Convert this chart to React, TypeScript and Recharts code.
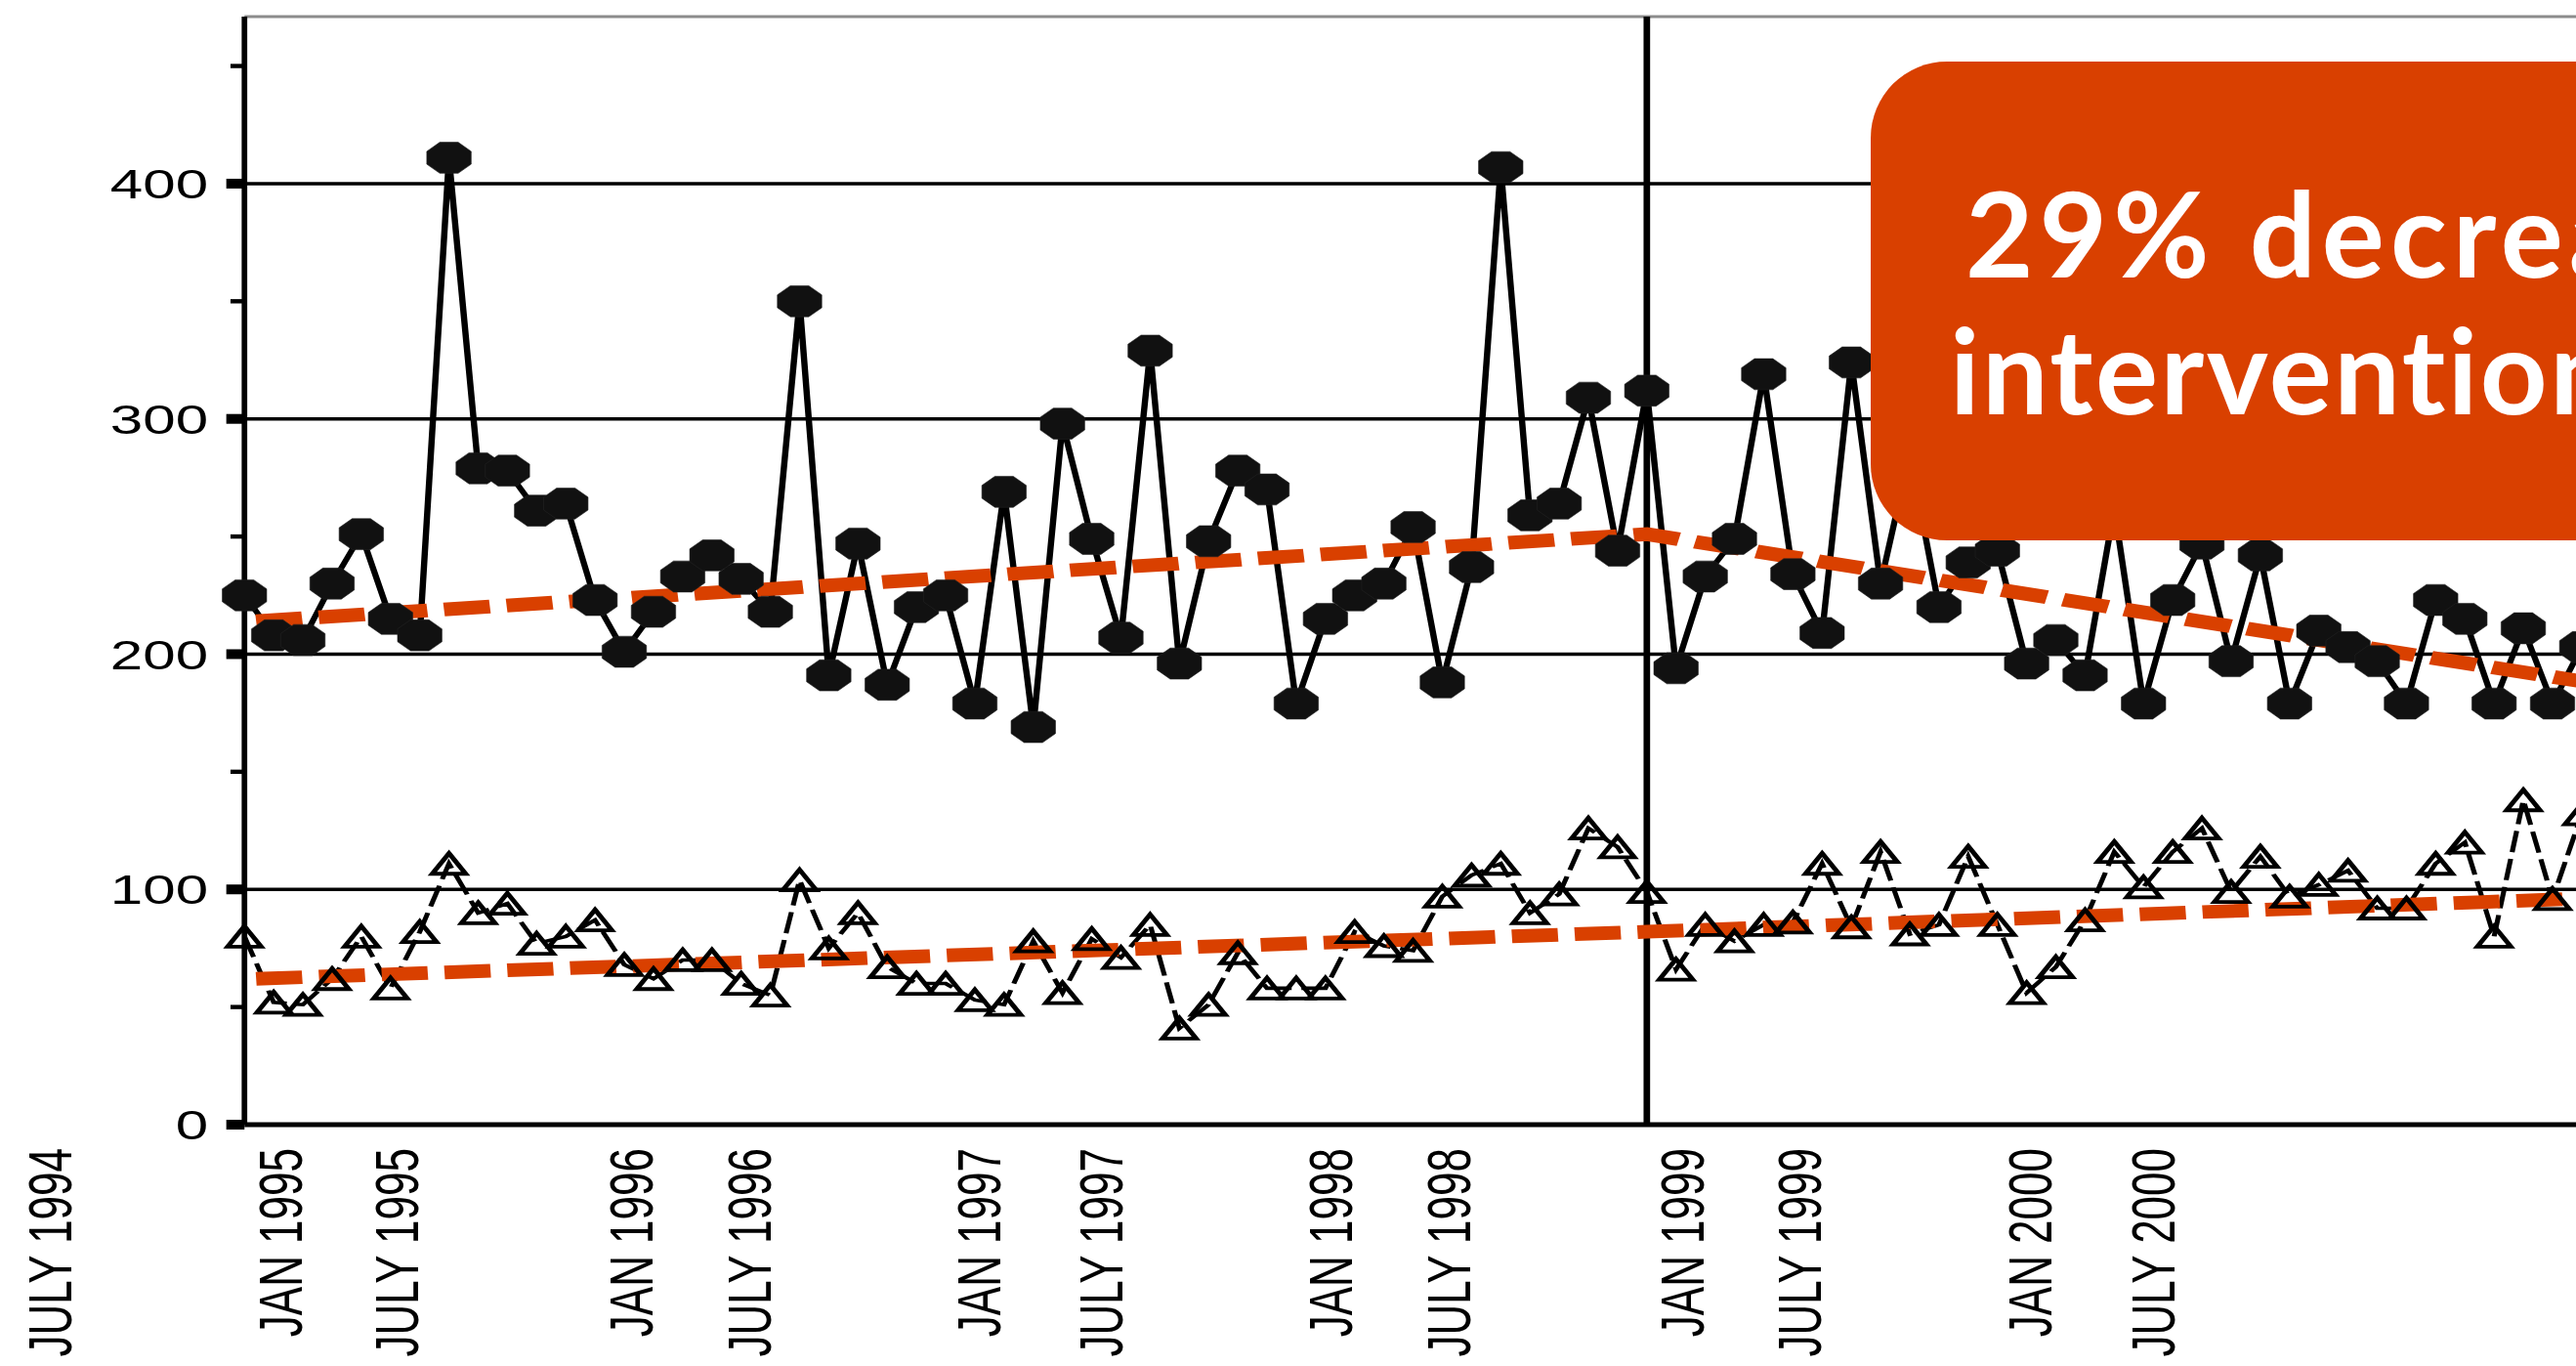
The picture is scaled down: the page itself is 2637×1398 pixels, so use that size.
import { ComposedChart, Line, XAxis, YAxis, CartesianGrid, ReferenceLine } from 'recharts';

// monthly counts, month 0 = first point on the y axis
const circleCounts = [
  225, 208, 206, 230, 251, 215, 208, 411, 279, 278, 261, 264, 223, 201, 218, 233, 242, 232, 218, 350,
  191, 247, 187, 220, 225, 179, 269, 169, 298, 249, 207, 329, 196, 248, 278, 270, 179, 215, 225, 230,
  254, 188, 237, 407, 259, 264, 309, 244, 312, 194, 233, 249, 319, 234, 209, 324, 230, 285, 220, 239,
  244, 196, 206, 191, 262, 179, 223, 247, 197, 242, 179, 210, 203, 197, 179, 223, 215, 179, 211, 179,
  203,
];
const triangleCounts = [
  80, 52, 51, 62, 80, 58, 82, 111, 90, 94, 77, 80, 87, 68, 62, 70, 70, 60, 55, 104,
  75, 90, 67, 60, 60, 53, 51, 78, 56, 79, 71, 85, 41, 51, 73, 58, 58, 58, 82, 76,
  74, 97, 106, 111, 90, 98, 126, 118, 99, 66, 85, 78, 85, 86, 111, 84, 116, 81, 85, 114,
  85, 56, 67, 87, 116, 101, 116, 126, 99, 114, 97, 102, 108, 92, 92, 111, 120, 80, 138, 96,
  132,
];

// segmented trend, break at the intervention (JAN 1999)
const trendMonths = [0.4, 48, 82];
const circleTrendValues = [214, 251, 184.5];
const triangleTrendValues = [62, 82, 97];

const interventionMonth = 48;
const xTickMonths = [0, 6, 12, 18, 24, 30, 36, 42, 48, 54, 60, 66, 72, 78];
const xLabelMonths = [-6.7, 1.2, 5.2, 13.2, 17.25, 25.1, 29.3, 37.15, 41.2, 49.2, 53.2, 61.1, 65.3];
const xLabelTexts = [
  'JULY 1994', 'JAN 1995', 'JULY 1995', 'JAN 1996', 'JULY 1996', 'JAN 1997', 'JULY 1997',
  'JAN 1998', 'JULY 1998', 'JAN 1999', 'JULY 1999', 'JAN 2000', 'JULY 2000',
];
const yTicks = [0, 50, 100, 150, 200, 250, 300, 350, 400, 450];
const gridValues = [100, 200, 300, 400];

const ORANGE = '#D94000';
const FONT = "'Liberation Sans', Arial, sans-serif";
const STRETCH = 1.43; // source figure is stretched sideways
const CHART_W = 1890;
const CHART_H = 1398;
const Y_TICK_GAP = 26;

const rows = circleCounts.map((a, i) => ({ month: i, a, b: triangleCounts[i] }));
const circleTrend = trendMonths.map((m, i) => ({ month: m, value: circleTrendValues[i] }));
const triangleTrend = trendMonths.map((m, i) => ({ month: m, value: triangleTrendValues[i] }));

function Octagon(props: any) {
  const { cx, cy, index } = props;
  if (cx == null || cy == null) return <g key={index} />;
  const r = 17.2;
  const pts: string[] = [];
  for (let k = 0; k < 8; k++) {
    const ang = Math.PI / 8 + (k * Math.PI) / 4;
    pts.push(`${cx + r * Math.cos(ang)},${cy + r * Math.sin(ang)}`);
  }
  return <polygon key={index} points={pts.join(' ')} fill="#111" stroke="#222" strokeWidth={0.5} />;
}

function Triangle(props: any) {
  const { cx, cy, index } = props;
  if (cx == null || cy == null) return <g key={index} />;
  const h = 10.5;
  const w = 12;
  return (
    <polygon
      key={index}
      points={`${cx},${cy - h} ${cx + w},${cy + h} ${cx - w},${cy + h}`}
      fill="none"
      stroke="#000"
      strokeWidth={3.8}
    />
  );
}

function YTick(props: any) {
  const { x, y, payload } = props;
  const axisX = x + Y_TICK_GAP;
  const major = payload.value % 100 === 0;
  return (
    <g>
      {major ? (
        <rect x={axisX - 13} y={y - 5} width={13} height={10} fill="#000" />
      ) : (
        <rect x={axisX - 10} y={y - 2.2} width={10} height={4.4} fill="#000" />
      )}
      {major && (
        <text x={x} y={y} dy="0.36em" textAnchor="end" fontSize={42} fontFamily={FONT} fill="#000">
          {payload.value}
        </text>
      )}
    </g>
  );
}

function XLabel(props: any) {
  const { x, y, index } = props;
  return (
    <text
      x={x}
      y={y}
      transform={`rotate(-90 ${x} ${y})`}
      textAnchor="end"
      dy="0.36em"
      fontSize={44}
      fontFamily={FONT}
      fill="#000"
    >
      {xLabelTexts[index]}
    </text>
  );
}

export default function App() {
  return (
    <div
      style={{
        position: 'absolute',
        left: 0,
        top: 0,
        width: 2637,
        height: 1398,
        overflow: 'hidden',
        background: '#fff',
      }}
    >
      <div style={{ width: CHART_W, height: CHART_H, transform: `scaleX(${STRETCH})`, transformOrigin: '0 0' }}>
        <ComposedChart width={CHART_W} height={CHART_H} data={rows} margin={{ top: 17, right: 0, bottom: 0, left: 0 }}>
          <CartesianGrid vertical={false} horizontalValues={gridValues} stroke="#000" strokeWidth={3.5} />
          <XAxis
            dataKey="month"
            type="number"
            domain={[0, 82]}
            ticks={xTickMonths}
            interval={0}
            tick={false}
            tickSize={10}
            tickLine={{ stroke: '#000', strokeWidth: 13 }}
            axisLine={{ stroke: '#000', strokeWidth: 5 }}
            height={12}
          />
          <XAxis
            xAxisId="labels"
            dataKey="month"
            type="number"
            domain={[0, 82]}
            ticks={xLabelMonths}
            interval={0}
            tick={(p: any) => <XLabel {...p} />}
            tickSize={0}
            tickMargin={12}
            axisLine={false}
            tickLine={false}
            height={235}
          />
          <YAxis
            type="number"
            domain={[0, 471]}
            ticks={yTicks}
            interval={0}
            width={175}
            tickSize={0}
            tickMargin={Y_TICK_GAP}
            tickLine={false}
            axisLine={{ stroke: '#000', strokeWidth: 4 }}
            tick={(p: any) => <YTick {...p} />}
          />
          <ReferenceLine y={471} stroke="#8c8c8c" strokeWidth={3} />
          <ReferenceLine x={interventionMonth} stroke="#000" strokeWidth={4.7} />
          <Line
            dataKey="b"
            stroke="#000"
            strokeWidth={3.6}
            strokeDasharray="22 7"
            dot={(p: any) => <Triangle key={p.index} {...p} />}
            activeDot={false}
            isAnimationActive={false}
          />
          <Line
            dataKey="a"
            stroke="#000"
            strokeWidth={4.5}
            dot={(p: any) => <Octagon key={p.index} {...p} />}
            activeDot={false}
            isAnimationActive={false}
          />
          <Line
            data={circleTrend}
            dataKey="value"
            stroke={ORANGE}
            strokeWidth={14}
            strokeDasharray="33 12"
            dot={false}
            activeDot={false}
            isAnimationActive={false}
          />
          <Line
            data={triangleTrend}
            dataKey="value"
            stroke={ORANGE}
            strokeWidth={14}
            strokeDasharray="33 12"
            dot={false}
            activeDot={false}
            isAnimationActive={false}
          />
        </ComposedChart>
      </div>
      <svg width={2637} height={1398} style={{ position: 'absolute', left: 0, top: 0 }}>
        <rect x={1915} y={63} width={900} height={490} rx={78} fill={ORANGE} />
        <text
          x={2012}
          y={284}
          fontSize={120}
          fontWeight={700}
          letterSpacing={6}
          fontFamily="Lato, 'Open Sans', sans-serif"
          fill="#fff"
        >
          29% decrease
        </text>
        <text
          x={1996}
          y={424}
          fontSize={120}
          fontWeight={700}
          letterSpacing={2.5}
          fontFamily="Lato, 'Open Sans', sans-serif"
          fill="#fff"
        >
          intervention
        </text>
      </svg>
    </div>
  );
}
